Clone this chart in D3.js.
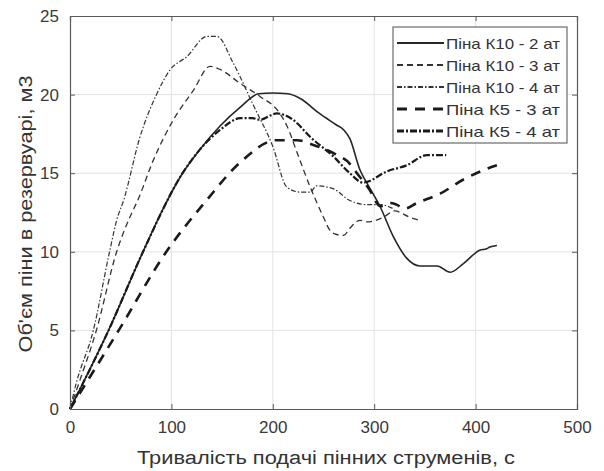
<!DOCTYPE html>
<html>
<head>
<meta charset="utf-8">
<script src="https://cdn.jsdelivr.net/npm/d3@7"></script>
<style>
  body { margin: 0; background: #fff; }
  svg { font-family: "Liberation Sans", Arial, sans-serif; }
</style>
</head>
<body>
<div id="chart"></div>
<script>
// Series data (time, s -> foam volume, m3)
const k10_2_t = [0, 38, 72, 90, 111, 128, 148, 168, 186, 200, 215, 227, 246, 262, 270, 276, 286, 293, 306, 319, 332, 345, 362, 375, 388, 404, 411, 414, 421];
const k10_2_v = [0, 5, 10, 12.5, 15, 16.5, 18.0, 19.2, 20.05, 20.1, 20.05, 19.75, 18.8, 18.1, 17.75, 17.2, 15.2, 14.35, 12.85, 10.95, 9.6, 9.1, 9.1, 8.7, 9.25, 10.1, 10.2, 10.3, 10.4];

const k10_3_t = [0, 8, 26, 46, 59, 67, 82, 102, 122, 138, 148, 168, 187, 207, 214, 224, 237, 250, 256, 263, 270, 276, 286, 293, 309, 320, 335, 345];
const k10_3_v = [0, 1.5, 5, 10, 12.2, 13.3, 15.8, 18.4, 20.3, 21.8, 21.6, 20.7, 19.9, 18.8, 18.0, 16.3, 14.1, 12.2, 11.4, 11.1, 11.05, 11.5, 12.0, 11.9, 12.2, 12.6, 12.2, 12.0];

const k10_4_t = [0, 6, 23, 39, 46, 53, 69, 86, 99, 115, 135, 145, 161, 181, 200, 214, 227, 237, 243, 260, 275, 293, 306, 320];
const k10_4_v = [0, 1.6, 5, 10, 12.0, 13.3, 17.3, 20.1, 21.6, 22.4, 23.7, 23.7, 22.0, 19.3, 16.7, 14.1, 13.8, 13.8, 14.2, 14.0, 13.3, 13.0, 13.0, 12.7];

const k5_3_t = [0, 48, 95, 135, 168, 204, 224, 240, 262, 276, 283, 295, 306, 316, 322, 330, 342, 365, 388, 408, 421];
const k5_3_v = [0, 5, 10, 13.3, 15.7, 17.1, 17.1, 16.8, 16.2, 15.6, 15.0, 14.0, 12.9, 13.1, 13.0, 12.75, 13.1, 13.7, 14.6, 15.2, 15.5];

const k5_4_t = [0, 38, 72, 111, 128, 148, 168, 180, 187, 204, 220, 237, 260, 276, 289, 293, 312, 332, 352, 371];
const k5_4_v = [0, 5, 10, 15, 16.5, 17.75, 18.5, 18.5, 18.4, 18.8, 18.4, 17.3, 16.05, 15.0, 14.4, 14.45, 15.1, 15.5, 16.15, 16.15];

const seriesNames = ["Піна К10 - 2 ат", "Піна К10 - 3 ат", "Піна К10 - 4 ат", "Піна К5 - 3 ат", "Піна К5 - 4 ат"];
const xTicks = [0, 100, 200, 300, 400, 500];
const yTicks = [0, 5, 10, 15, 20, 25];

const W = 604, H = 471;
const MARGIN = { LEFT: 70, RIGHT: 27, TOP: 16, BOTTOM: 62 };
const width = W - MARGIN.LEFT - MARGIN.RIGHT;
const height = H - MARGIN.TOP - MARGIN.BOTTOM;

const series = [
  { name: seriesNames[0], t: k10_2_t, v: k10_2_v, dash: null, w: 1.6, color: "#262626" },
  { name: seriesNames[1], t: k10_3_t, v: k10_3_v, dash: "6,4", w: 1.3, color: "#333" },
  { name: seriesNames[2], t: k10_4_t, v: k10_4_v, dash: "5,2,1.5,2", w: 1.2, color: "#333" },
  { name: seriesNames[3], t: k5_3_t, v: k5_3_v, dash: "10,8", w: 2.6, color: "#1a1a1a" },
  { name: seriesNames[4], t: k5_4_t, v: k5_4_v, dash: "7,2,2,2", w: 2.2, color: "#1a1a1a" }
];

const svg = d3.select("#chart").append("svg")
  .attr("width", W).attr("height", H);

const g = svg.append("g")
  .attr("transform", `translate(${MARGIN.LEFT},${MARGIN.TOP})`);

const x = d3.scaleLinear().domain([0, 500]).range([0, width]);
const y = d3.scaleLinear().domain([0, 25]).range([height, 0]);

// grid
g.append("g").selectAll("line").data(xTicks.slice(1, -1)).join("line")
  .attr("x1", d => x(d)).attr("x2", d => x(d))
  .attr("y1", 0).attr("y2", height)
  .attr("stroke", "#e3e3e3").attr("stroke-width", 1);
g.append("g").selectAll("line").data(yTicks.slice(1, -1)).join("line")
  .attr("y1", d => y(d)).attr("y2", d => y(d))
  .attr("x1", 0).attr("x2", width)
  .attr("stroke", "#e3e3e3").attr("stroke-width", 1);

// lines
const line = d3.line()
  .x(d => x(d[0]))
  .y(d => y(d[1]))
  .curve(d3.curveMonotoneX);

series.forEach(s => {
  g.append("path")
    .datum(s.t.map((t, i) => [t, s.v[i]]))
    .attr("fill", "none")
    .attr("stroke", s.color)
    .attr("stroke-width", s.w)
    .attr("stroke-dasharray", s.dash)
    .attr("stroke-linejoin", "round")
    .attr("d", line);
});

// axes, MATLAB style (ticks inward, box)
const axisColor = "#5a5a5a";
const xAxis = g.append("g")
  .attr("transform", `translate(0,${height})`)
  .call(d3.axisBottom(x).tickValues(xTicks).tickSize(-5).tickPadding(12));
const yAxis = g.append("g")
  .call(d3.axisLeft(y).tickValues(yTicks).tickSize(-5).tickPadding(11));
const xTop = g.append("g")
  .call(d3.axisTop(x).tickValues(xTicks).tickSize(-5).tickFormat(""));
const yRight = g.append("g")
  .attr("transform", `translate(${width},0)`)
  .call(d3.axisRight(y).tickValues(yTicks).tickSize(-5).tickFormat(""));

[xAxis, yAxis, xTop, yRight].forEach(a => {
  a.select(".domain").attr("stroke", axisColor).attr("stroke-width", 1.2);
  a.selectAll(".tick line").attr("stroke", axisColor);
  a.selectAll(".tick text")
    .attr("fill", "#3a3a3a")
    .style("font-size", "17px");
});

// axis labels
svg.append("text")
  .attr("x", 326).attr("y", 464)
  .attr("text-anchor", "middle")
  .attr("fill", "#333")
  .style("font-size", "18px")
  .attr("textLength", 378)
  .attr("lengthAdjust", "spacingAndGlyphs")
  .text("Тривалість подачі пінних струменів, с");

svg.append("text")
  .attr("transform", "translate(32,214) rotate(-90)")
  .attr("text-anchor", "middle")
  .attr("fill", "#333")
  .style("font-size", "18px")
  .attr("textLength", 277)
  .attr("lengthAdjust", "spacingAndGlyphs")
  .text("Об'єм піни в резервуарі, м3");

// legend
const legend = svg.append("g").attr("transform", "translate(393,27)");
legend.append("rect")
  .attr("width", 174).attr("height", 116)
  .attr("fill", "#fff")
  .attr("stroke", "#6a6a6a").attr("stroke-width", 1.2);

series.forEach((s, i) => {
  const row = legend.append("g").attr("transform", `translate(0,${16 + i * 22})`);
  row.append("line")
    .attr("x1", 4).attr("x2", 51)
    .attr("stroke", s.color)
    .attr("stroke-width", s.w + 0.6)
    .attr("stroke-dasharray", s.dash);
  row.append("text")
    .attr("x", 53).attr("y", 6)
    .attr("fill", "#333")
    .style("font-size", "15px")
    .attr("textLength", 114)
    .attr("lengthAdjust", "spacingAndGlyphs")
    .text(s.name);
});
</script>
</body>
</html>
